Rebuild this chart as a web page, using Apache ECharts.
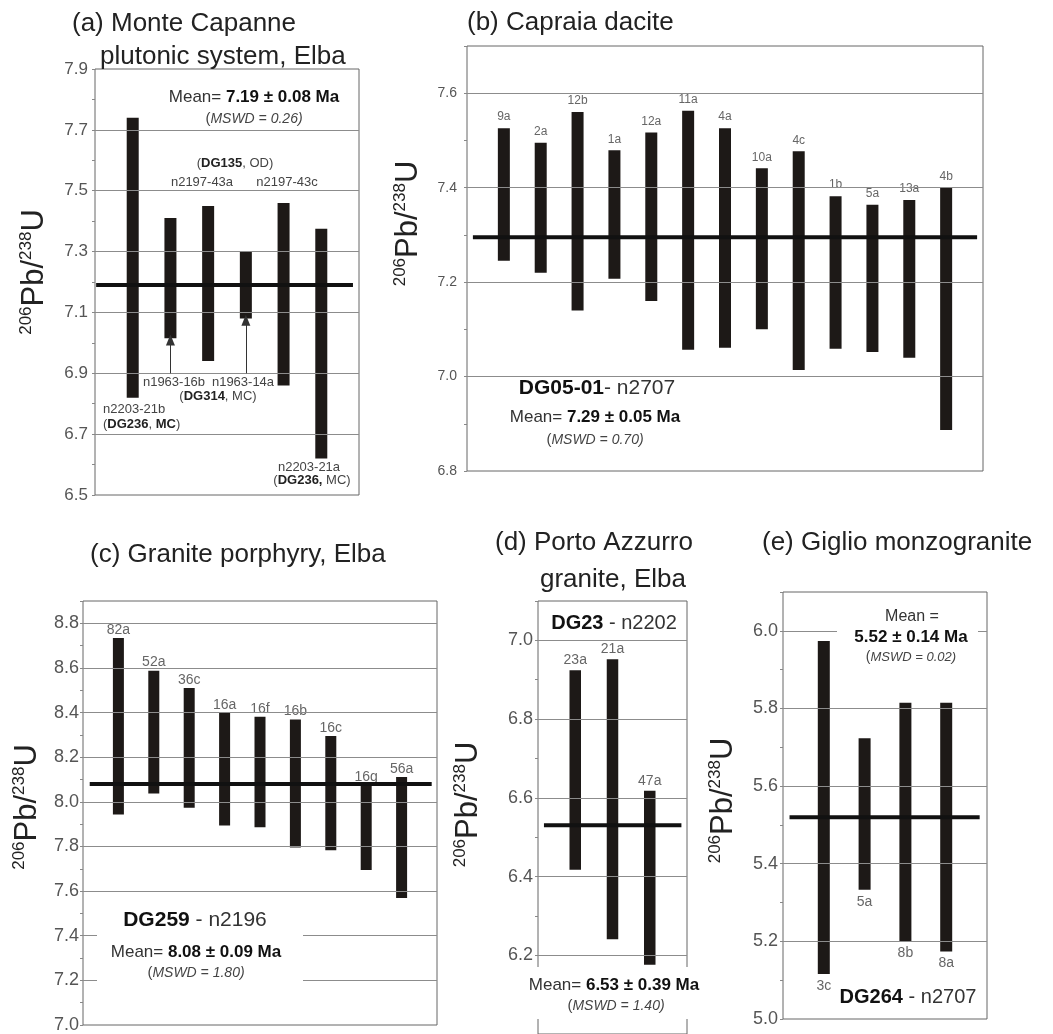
<!DOCTYPE html>
<html><head><meta charset="utf-8">
<script src="https://cdn.jsdelivr.net/npm/echarts@6/dist/echarts.min.js"></script>
<style>html,body{margin:0;padding:0;background:#fff}#c{width:1053px;height:1034px}</style>
</head><body><div id="c"></div>
<script>
// ---------- DATA ----------
// (a) Monte Capanne plutonic system, Elba
const samplesA = ['n2203-21b', 'n1963-16b', 'n2197-43a', 'n1963-14a', 'n2197-43c', 'n2203-21a'];
const lowA  = [6.82, 7.015, 6.94, 7.08, 6.86, 6.62];
const highA = [7.74, 7.41, 7.45, 7.30, 7.46, 7.375];
const meanA = 7.19;
const tickLabelsA = [6.5, 6.7, 6.9, 7.1, 7.3, 7.5, 7.7, 7.9];
const gridLinesA = [6.7, 6.9, 7.1, 7.3, 7.5, 7.7];

// (b) Capraia dacite
const samplesB = ['9a', '2a', '12b', '1a', '12a', '11a', '4a', '10a', '4c', '1b', '5a', '13a', '4b'];
const lowB  = [7.245, 7.22, 7.14, 7.207, 7.16, 7.057, 7.061, 7.10, 7.014, 7.059, 7.052, 7.04, 6.887];
const highB = [7.526, 7.495, 7.56, 7.479, 7.517, 7.563, 7.526, 7.441, 7.477, 7.382, 7.364, 7.374, 7.401];
const meanB = 7.295;
const tickLabelsB = [6.8, 7.0, 7.2, 7.4, 7.6];
const gridLinesB = [7.0, 7.2, 7.4, 7.6];

// (c) Granite porphyry, Elba
const samplesC = ['82a', '52a', '36c', '16a', '16f', '16b', '16c', '16g', '56a'];
const lowC  = [7.943, 8.037, 7.973, 7.894, 7.886, 7.795, 7.783, 7.695, 7.569];
const highC = [8.734, 8.588, 8.51, 8.399, 8.381, 8.369, 8.295, 8.077, 8.111];
const meanC = 8.08;
const tickLabelsC = [7.0, 7.2, 7.4, 7.6, 7.8, 8.0, 8.2, 8.4, 8.6, 8.8];
const gridLinesC = [7.2, 7.4, 7.6, 7.8, 8.0, 8.2, 8.4, 8.6, 8.8];

// (d) Porto Azzurro granite, Elba
const samplesD = ['23a', '21a', '47a'];
const lowD  = [6.417, 6.241, 6.176];
const highD = [6.924, 6.952, 6.618];
const meanD = 6.53;
const tickLabelsD = [6.2, 6.4, 6.6, 6.8, 7.0];
const gridLinesD = [6.2, 6.4, 6.6, 6.8, 7.0];

// (e) Giglio monzogranite
const samplesE = ['3c', '5a', '8b', '8a'];
const lowE  = [5.116, 5.333, 5.2, 5.174];
const highE = [5.974, 5.723, 5.815, 5.815];
const meanE = 5.52;
const tickLabelsE = [5.0, 5.2, 5.4, 5.6, 5.8, 6.0];
const gridLinesE = [5.2, 5.4, 5.6, 5.8, 6.0];

// ---------- LAYOUT ----------
const FF = "'Liberation Sans', Arial, Helvetica, sans-serif";
const BAR = '#1d1917';
const GRIDC = '#8c8c8c';

const panels = [
  {names: samplesA, low: lowA, high: highA, mean: meanA, ticks: tickLabelsA, lines: gridLinesA,
   grid: {left: 95, top: 69, width: 264, height: 426}, ymin: 6.5, ymax: 7.9,
   barW: 12, lab: null, lineX: [0.03, 6.84], axFont: 17, axMargin: 7, nameGap: 45, shift: 10},
  {names: samplesB, low: lowB, high: highB, mean: meanB, ticks: tickLabelsB, lines: gridLinesB,
   grid: {left: 467, top: 46, width: 516, height: 425}, ymin: 6.8, ymax: 7.7,
   barW: 12, lab: {pos: 'top', size: 12, gap: 5}, lineX: [0.16, 13.84], axFont: 14, axMargin: 10, nameGap: 43, shift: 35},
  {names: samplesC, low: lowC, high: highC, mean: meanC, ticks: tickLabelsC, lines: gridLinesC,
   grid: {left: 83, top: 601, width: 354, height: 426}, ymin: 7.0, ymax: 8.9,
   barW: 11, lab: {pos: 'top', size: 14, gap: 1}, lineX: [0.19, 9.85], axFont: 18, axMargin: 4, nameGap: 40, shift: 6},
  {names: samplesD, low: lowD, high: highD, mean: meanD, ticks: tickLabelsD, lines: gridLinesD,
   grid: {left: 538, top: 601, width: 149, height: 434}, ymin: 6.0, ymax: 7.1,
   barW: 11.5, lab: {pos: 'top', size: 14, gap: 3}, lineX: [0.16, 3.85], axFont: 18, axMargin: 5, nameGap: 54, shift: 13},
  {names: samplesE, low: lowE, high: highE, mean: meanE, ticks: tickLabelsE, lines: gridLinesE,
   grid: {left: 783, top: 592, width: 204, height: 427}, ymin: 5.0, ymax: 6.1,
   barW: 12, lab: {pos: 'bottom', size: 14, gap: 5}, lineX: [0.16, 4.82], axFont: 18, axMargin: 5, nameGap: 44, shift: 5}
];

const grids = [], xAxes = [], yAxes = [], series = [];

panels.forEach((p, i) => {
  grids.push(Object.assign({show: true, borderColor: '#666', borderWidth: 1, containLabel: false}, p.grid));
  xAxes.push({type: 'value', gridIndex: i, min: 0, max: p.names.length + 1, show: false});
  yAxes.push({
    type: 'value', gridIndex: i, min: p.ymin, max: p.ymax, interval: 0.1,
    axisLine: {show: false},
    axisTick: {show: true, length: 3, inside: false, lineStyle: {color: '#888', width: 1}},
    splitLine: {show: false},
    axisLabel: {
      fontSize: p.axFont, color: '#555', fontFamily: FF, margin: p.axMargin,
      showMinLabel: true, showMaxLabel: true,
      formatter: v => p.ticks.some(t => Math.abs(t - v) < 1e-6) ? v.toFixed(1) : ''
    },
    name: '{s|206}{m|Pb/}{s|238}{m|U}',
    nameLocation: 'middle', nameGap: p.nameGap, nameRotate: 90,
    nameTextStyle: {
      color: '#222', fontFamily: FF, padding: [0, 0, 0, p.shift * 2],
      rich: {
        s: {fontSize: 17, fontFamily: FF, color: '#222', lineHeight: 20, verticalAlign: 'top'},
        m: {fontSize: 31, fontFamily: FF, color: '#222', lineHeight: 32, verticalAlign: 'middle'}
      }
    }
  });

  // grid lines (drawn from the tick-value arrays)
  series.push({
    type: 'line', xAxisIndex: i, yAxisIndex: i, data: [], z: 1, silent: true,
    markLine: {
      silent: true, symbol: ['none', 'none'], label: {show: false},
      lineStyle: {color: GRIDC, width: 1, type: 'solid'},
      animation: false,
      data: p.lines.map(v => ({yAxis: v}))
    }
  });

  // floating range bars
  const names = p.names;
  series.push({
    type: 'custom', xAxisIndex: i, yAxisIndex: i, z: 3,
    data: names.map((n, k) => [k + 1, p.low[k], p.high[k]]),
    renderItem: (params, api) => {
      const x = api.value(0), lo = api.value(1), hi = api.value(2);
      const pt = api.coord([x, hi]), pb = api.coord([x, lo]);
      const children = [{
        type: 'rect',
        shape: {x: pt[0] - p.barW / 2, y: pt[1], width: p.barW, height: pb[1] - pt[1]},
        style: {fill: BAR}
      }];
      if (p.lab) {
        const top = p.lab.pos === 'top';
        children.push({
          type: 'text',
          style: {
            text: names[params.dataIndex], x: pt[0], y: top ? pt[1] - p.lab.gap : pb[1] + p.lab.gap,
            align: 'center', verticalAlign: top ? 'bottom' : 'top',
            fontSize: p.lab.size, fontFamily: FF, fill: '#666'
          }
        });
      }
      return {type: 'group', children};
    }
  });

  // weighted mean line
  series.push({
    type: 'line', xAxisIndex: i, yAxisIndex: i, z: 4, symbol: 'none', silent: true,
    lineStyle: {color: '#111', width: 4},
    data: [[p.lineX[0], p.mean], [p.lineX[1], p.mean]]
  });
});

// arrows in panel (a), pointing up to n1963-16b and n1963-14a
series.push({
  type: 'line', xAxisIndex: 0, yAxisIndex: 0, data: [], z: 5, silent: true,
  markLine: {
    silent: true, symbol: ['none', 'triangle'], symbolSize: [9, 11], label: {show: false},
    lineStyle: {color: '#333', width: 1, type: 'solid'}, animation: false,
    data: [1, 3].map(k => [{coord: [k + 1, 6.9]}, {coord: [k + 1, lowA[k] - 0.006]}])
  }
});

// ---------- TEXT ----------
function R(size, extra) { return Object.assign({fontSize: size, fontFamily: FF, fill: '#333'}, extra || {}); }
function T(x, y, text, rich, align) {
  return {type: 'text', x, y, z: 100, style: {text, rich, align: align || 'center', verticalAlign: 'middle', fontFamily: FF}};
}
function title(x, y, text) {
  return {type: 'text', x, y, z: 100, style: {text, fontSize: 26, fontFamily: FF, fill: '#222', align: 'left', verticalAlign: 'middle'}};
}
function white(x, y, w, h) {
  return {type: 'rect', z: 90, shape: {x, y, width: w, height: h}, style: {fill: '#fff'}};
}
const meanRich = (s) => ({r: R(s, {fill: '#333'}), b: R(s, {fontWeight: 'bold', fill: '#111'})});
const mswdRich = (s) => ({p: R(s + 1, {fill: '#444'}), i: R(s, {fontStyle: 'italic', fill: '#444'})});
const smallRich = (s) => ({r: R(s, {fill: '#444'}), b: R(s, {fontWeight: 'bold', fill: '#222'})});

const graphics = [
  // (a)
  title(72, 24, '(a) Monte Capanne'),
  title(100, 57, 'plutonic system, Elba'),
  T(254, 97, '{r|Mean= }{b|7.19 ± 0.08 Ma}', meanRich(17)),
  T(254, 119, '{p|(}{i|MSWD = 0.26)}', mswdRich(14)),
  T(235, 163, '{r|(}{b|DG135}{r|, OD)}', smallRich(13)),
  T(202, 182, '{r|n2197-43a}', smallRich(13)),
  T(287, 182, '{r|n2197-43c}', smallRich(13)),
  T(174, 382, '{r|n1963-16b}', smallRich(13)),
  T(243, 382, '{r|n1963-14a}', smallRich(13)),
  T(218, 396, '{r|(}{b|DG314}{r|, MC)}', smallRich(13)),
  T(103, 409, '{r|n2203-21b}', smallRich(13), 'left'),
  T(103, 424, '{r|(}{b|DG236}{r|, }{b|MC}{r|)}', smallRich(13), 'left'),
  T(309, 467, '{r|n2203-21a}', smallRich(13)),
  T(312, 480, '{r|(}{b|DG236,}{r| MC)}', smallRich(13)),
  // (b)
  title(467, 23, '(b) Capraia dacite'),
  T(597, 388, '{b|DG05-01}{r|- n2707}', meanRich(21)),
  T(595, 417, '{r|Mean= }{b|7.29 ± 0.05 Ma}', meanRich(17)),
  T(595, 440, '{p|(}{i|MSWD = 0.70)}', mswdRich(14)),
  // (c)
  title(90, 555, '(c) Granite porphyry, Elba'),
  white(97, 903, 206, 92),
  T(195, 920, '{b|DG259}{r| - n2196}', meanRich(21)),
  T(196, 952, '{r|Mean= }{b|8.08 ± 0.09 Ma}', meanRich(17)),
  T(196, 973, '{p|(}{i|MSWD = 1.80)}', mswdRich(14)),
  // (d)
  title(495, 543, '(d) Porto Azzurro'),
  title(540, 580, 'granite, Elba'),
  T(614, 623, '{b|DG23}{r| - n2202}', meanRich(20)),
  white(530, 967, 170, 52),
  T(614, 985, '{r|Mean= }{b|6.53 ± 0.39 Ma}', meanRich(17)),
  T(616, 1006, '{p|(}{i|MSWD = 1.40)}', mswdRich(14)),
  // (e)
  title(762, 543, '(e) Giglio monzogranite'),
  white(837, 607, 141, 60),
  T(912, 617, '{r|Mean =}', meanRich(16)),
  T(911, 637, '{b|5.52 ± 0.14 Ma}', meanRich(17)),
  T(911, 657, '{p|(}{i|MSWD = 0.02)}', mswdRich(13)),
  T(908, 997, '{b|DG264}{r| - n2707}', meanRich(20))
];

const chart = echarts.init(document.getElementById('c'), null, {renderer: 'canvas'});
chart.setOption({
  animation: false,
  backgroundColor: '#fff',
  grid: grids, xAxis: xAxes, yAxis: yAxes, series,
  graphic: graphics
});
</script>
</body></html>
